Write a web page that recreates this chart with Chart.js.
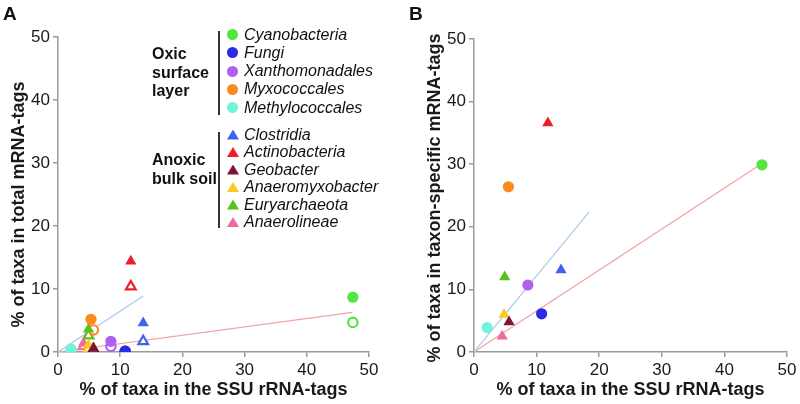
<!DOCTYPE html>
<html>
<head>
<meta charset="utf-8">
<script src="https://cdn.jsdelivr.net/npm/chart.js@4.4.0/dist/chart.umd.min.js"></script>
<style>
  html, body { margin: 0; padding: 0; background: #fff; }
  body { width: 800px; height: 404px; position: relative; overflow: hidden;
         font-family: "Liberation Sans", Arial, sans-serif; color: #111; }
  canvas { position: absolute; top: 0; }
  #cA { left: 0; }
  #cB { left: 400px; }
  .panel { position: absolute; font-weight: bold; font-size: 19px; }
  .grp { position: absolute; font-weight: bold; font-size: 16px; line-height: 18.5px; }
  .brk { position: absolute; width: 2px; background: #333; }
  .item { position: absolute; font-style: italic; font-size: 16px; line-height: 18px; white-space: nowrap; }
  .dot { position: absolute; width: 11px; height: 11px; border-radius: 50%; }
  .tri { position: absolute; width: 12px; height: 10px; clip-path: polygon(50% 0, 100% 100%, 0 100%); }
</style>
</head>
<body>
<canvas id="cA" width="400" height="404"></canvas>
<canvas id="cB" width="400" height="404"></canvas>
<div class="panel" style="left:3px;top:3px;">A</div>
<div class="panel" style="left:409px;top:3px;">B</div>
<div id="legend"></div>
<script>
// ---- data ----
const taxa = ["Cyanobacteria", "Fungi", "Xanthomonadales", "Myxococcales", "Methylococcales",
              "Clostridia", "Actinobacteria", "Geobacter", "Anaeromyxobacter", "Euryarchaeota", "Anaerolineae"];
const groupOxic = ["Oxic", "surface", "layer"];
const groupAnoxic = ["Anoxic", "bulk soil"];
const nOxic = 5;
// Panel A: % of taxa in SSU rRNA-tags (x) vs % of taxa in total mRNA-tags (y)
const ssuA       = [47.4, 10.8, 8.5, 5.3, 2.1, 13.7, 11.7, 5.7, 4.9, 4.9, 4.1];
const totalA     = [8.7, 0.15, 1.7, 5.2, 0.5, 4.6, 14.4, 0.6, 1.1, 3.6, 1.4];
const ssuAOpen   = [47.4, 10.8, 8.5, 5.7, 2.1, 13.7, 11.7, 5.7, 4.9, 4.9, 4.1];
const totalAOpen = [4.7, 0.1, 0.9, 3.5, 0.3, 1.7, 10.4, 0.4, 0.5, 2.6, 0.9];
// Panel B: % of taxa in SSU rRNA-tags (x) vs % of taxa in taxon-specific mRNA-tags (y)
const ssuB      = [46.0, 10.8, 8.6, 5.5, 2.1, 13.9, 11.8, 5.6, 4.8, 4.9, 4.5];
const specificB = [29.9, 6.1, 10.7, 26.4, 3.9, 13.1, 36.6, 4.8, 6.0, 12.0, 2.5];
// trend lines (x, y pairs)
const trendABlueX = [0, 13.7], trendABlueY = [0, 8.9];
const trendARedX  = [0, 47.3], trendARedY  = [0, 6.3];
const trendBBlueX = [0, 18.4], trendBBlueY = [0, 22.4];
const trendBRedX  = [0, 46.0], trendBRedY  = [0, 30.1];
const xTicks = [0, 10, 20, 30, 40, 50];
const yTicks = [0, 10, 20, 30, 40, 50];

// ---- styles ----
const colors = ["#52e63f", "#2b2be6", "#b060ef", "#fb8a1f", "#72f2d6",
                "#3f62ef", "#ee1d27", "#7a1631", "#fdc81f", "#56c21b", "#f06aa0"];
const FONT = "'Liberation Sans', Arial, sans-serif";

function shape(i) { return i < nOxic ? "circle" : "triangle"; }
function radius(i, open) {
  const base = i < nOxic ? 5.6 : 6.5;
  return open ? base - 0.9 : base;
}
function pts(xs, ys) { return xs.map((x, i) => ({ x: x, y: ys[i] })); }

function pointDatasets(xs, ys, open) {
  return taxa.map((t, i) => ({
    label: t + (open ? " (open)" : ""),
    data: [{ x: xs[i], y: ys[i] }],
    pointStyle: shape(i),
    pointRadius: radius(i, open),
    pointBackgroundColor: open ? "#ffffff" : colors[i],
    pointBorderColor: colors[i],
    pointBorderWidth: open ? 2.2 : 0,
    showLine: false,
    order: open ? 2 : 1
  }));
}
function lineDataset(xs, ys, color) {
  return { label: "trend", data: pts(xs, ys), showLine: true, borderColor: color, borderWidth: 1.2,
           pointRadius: 0, fill: false, order: 5 };
}

function makeOptions(yTitle, yAxisW, padTop, padRight, yTitlePad) {
  const axisCommon = {
    type: "linear", min: 0, max: 50,
    border: { display: true, color: "#9a9a9a", width: 1.5 },
    grid: { display: true, drawOnChartArea: false, drawTicks: true, tickLength: 5, color: "#9a9a9a", lineWidth: 1.5 },
    ticks: { stepSize: 10, color: "#1a1a1a", font: { family: FONT, size: 17 }, padding: 3 }
  };
  return {
    responsive: false, animation: false, devicePixelRatio: 1,
    layout: { padding: { top: padTop, right: padRight, left: 0, bottom: 0 } },
    plugins: { legend: { display: false }, tooltip: { enabled: false } },
    events: [],
    scales: {
      x: Object.assign({}, axisCommon, {
        position: "bottom",
        afterBuildTicks: (s) => { s.ticks = xTicks.map(v => ({ value: v })); },
        title: { display: true, text: "% of taxa in the SSU rRNA-tags", color: "#1a1a1a",
                 font: { family: FONT, size: 18, weight: "bold" }, padding: { top: 0, bottom: 3 } },
        afterFit: (s) => { s.height = 52; s.paddingLeft = 0; s.paddingRight = 0; }
      }),
      y: Object.assign({}, axisCommon, {
        position: "left",
        afterBuildTicks: (s) => { s.ticks = yTicks.map(v => ({ value: v })); },
        title: { display: true, text: yTitle, color: "#1a1a1a",
                 font: { family: FONT, size: 18, weight: "bold" }, padding: { top: yTitlePad, bottom: 0 } },
        afterFit: (s) => { s.width = yAxisW; s.paddingTop = 0; s.paddingBottom = 0; }
      })
    }
  };
}

new Chart(document.getElementById("cA"), {
  type: "scatter",
  data: {
    datasets: [].concat(
      pointDatasets(ssuA, totalA, false),
      pointDatasets(ssuAOpen, totalAOpen, true),
      [lineDataset(trendABlueX, trendABlueY, "#a9c9ee"), lineDataset(trendARedX, trendARedY, "#f0a2a2")]
    )
  },
  options: makeOptions("% of taxa in total mRNA-tags    ", 58, 37, 31, 8)
});

new Chart(document.getElementById("cB"), {
  type: "scatter",
  data: {
    datasets: [].concat(
      pointDatasets(ssuB, specificB, false),
      [lineDataset(trendBBlueX, trendBBlueY, "#a9c9ee"), lineDataset(trendBRedX, trendBRedY, "#f0a2a2")]
    )
  },
  options: makeOptions("% of taxa in taxon-specific mRNA-tags ", 74, 39, 13, 24)
});

// ---- legend (HTML) ----
const lg = document.getElementById("legend");
function add(html) { lg.insertAdjacentHTML("beforeend", html); }
add('<div class="brk" style="left:218px;top:31px;height:84px;"></div>');
add('<div class="brk" style="left:218px;top:132px;height:96px;"></div>');
add('<div class="grp" style="left:152px;top:45px;">' + groupOxic.join("<br>") + '</div>');
add('<div class="grp" style="left:152px;top:151px;">' + groupAnoxic.join("<br>") + '</div>');
taxa.forEach((t, i) => {
  let cy, mk;
  if (i < nOxic) {
    cy = 34.5 + i * 18.3;
    mk = '<div class="dot" style="left:227px;top:' + (cy - 5.5) + 'px;background:' + colors[i] + ';"></div>';
  } else {
    cy = 134.5 + (i - nOxic) * 17.5;
    mk = '<div class="tri" style="left:227px;top:' + (cy - 5) + 'px;background:' + colors[i] + ';"></div>';
  }
  add(mk);
  add('<div class="item" style="left:244px;top:' + (cy - 9) + 'px;">' + t + '</div>');
});
</script>
</body>
</html>
